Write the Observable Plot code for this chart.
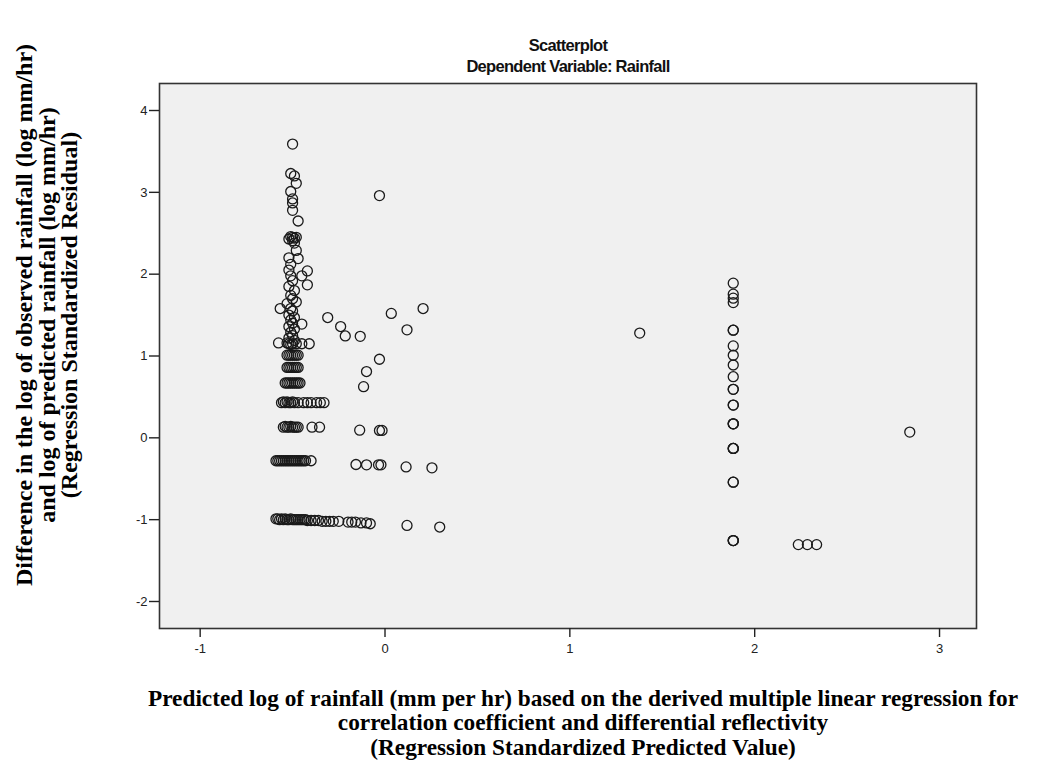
<!DOCTYPE html>
<html>
<head>
<meta charset="utf-8">
<script src="https://cdn.jsdelivr.net/npm/d3@7"></script>
<script src="https://cdn.jsdelivr.net/npm/@observablehq/plot@0.6"></script>
<style>
  html, body { margin: 0; padding: 0; background: #ffffff; }
</style>
</head>
<body>
<div id="chart"></div>
<script>
const titleText = "Scatterplot";
const subtitleText = "Dependent Variable: Rainfall";
const yLabelText = "Difference in the log of observed rainfall (log mm/hr)\nand log of predicted rainfall (log mm/hr)\n(Regression Standardized Residual)";
const xLabelText = "Predicted log of rainfall (mm per hr) based on the derived multiple linear regression for\ncorrelation coefficient and differential reflectivity\n(Regression Standardized Predicted Value)";
const xTicks = [-1, 0, 1, 2, 3];
const yTicks = [-2, -1, 0, 1, 2, 3, 4];

// Regression standardized predicted value (x)
const predicted = [
  // top of the main column
  -0.50, -0.51, -0.49, -0.48, -0.51, -0.50, -0.50, -0.50, -0.47, -0.03,
  -0.51, -0.50, -0.49, -0.48, -0.50, -0.49, -0.52,
  -0.48, -0.52, -0.47, -0.51,
  -0.42, -0.45, -0.42, -0.52, -0.51, -0.50, -0.52, -0.49, -0.51, -0.50, -0.48, -0.53,
  -0.567, -0.51, -0.50, -0.52, -0.49, -0.51, -0.50, -0.45, -0.52, -0.49, -0.51, -0.50, -0.52, -0.49,
  -0.31, -0.24, -0.215, -0.134, 0.034, 0.206, 0.119,
  // level 1.15
  -0.576, -0.52, -0.50, -0.48, -0.45, -0.41, -0.53, -0.51,
  // level 1.01
  -0.53, -0.52, -0.51, -0.50, -0.49, -0.48, -0.47, -0.03,
  // level 0.86
  -0.53, -0.52, -0.51, -0.50, -0.49, -0.48, -0.47, -0.10,
  // level 0.67
  -0.54, -0.53, -0.52, -0.51, -0.50, -0.49, -0.48, -0.47, -0.46, -0.116,
  // level 0.43
  -0.56, -0.55, -0.54, -0.53, -0.52, -0.51, -0.50, -0.49, -0.47, -0.44, -0.42, -0.40, -0.37, -0.35, -0.33,
  // level 0.13
  -0.55, -0.54, -0.53, -0.52, -0.51, -0.50, -0.49, -0.48, -0.47, -0.395, -0.354, -0.137, -0.03, -0.016,
  // level -0.28
  -0.59, -0.58, -0.57, -0.56, -0.55, -0.54, -0.53, -0.52, -0.51, -0.50, -0.49, -0.48, -0.47, -0.46, -0.45, -0.44, -0.43, -0.40,
  -0.157, -0.10, -0.035, -0.022, 0.114, 0.254,
  // level -1.0
  -0.59, -0.58, -0.57, -0.56, -0.55, -0.54, -0.53, -0.52, -0.51, -0.50, -0.49, -0.48, -0.47, -0.46, -0.45, -0.44, -0.43,
  -0.42, -0.40, -0.38, -0.36, -0.34, -0.32, -0.30, -0.28, -0.25, -0.20, -0.18, -0.16, -0.13, -0.10, -0.08, 0.119, 0.296,
  // right side
  1.378,
  1.884, 1.884, 1.884, 1.884, 1.884, 1.884, 1.884, 1.884, 1.884, 1.884, 1.884, 1.884, 1.884, 1.884,
  1.884, 1.884, 1.884, 1.884, 1.884, 1.884, 1.884, 1.884, 1.884, 1.884, 1.884,
  2.236, 2.285, 2.335, 2.839
];

// Regression standardized residual (y)
const residual = [
  3.59, 3.23, 3.20, 3.11, 3.01, 2.92, 2.87, 2.78, 2.65, 2.96,
  2.46, 2.45, 2.44, 2.45, 2.41, 2.38, 2.43,
  2.29, 2.20, 2.19, 2.12,
  2.04, 1.98, 1.87, 2.05, 1.98, 1.92, 1.85, 1.80, 1.74, 1.70, 1.66, 1.64,
  1.58, 1.58, 1.55, 1.50, 1.47, 1.44, 1.40, 1.39, 1.36, 1.33, 1.29, 1.25, 1.22, 1.19,
  1.47, 1.36, 1.245, 1.24, 1.52, 1.58, 1.32,
  1.16, 1.15, 1.15, 1.15, 1.15, 1.15, 1.16, 1.14,
  1.01, 1.01, 1.01, 1.01, 1.01, 1.01, 1.01, 0.96,
  0.86, 0.86, 0.86, 0.86, 0.86, 0.86, 0.86, 0.81,
  0.67, 0.67, 0.67, 0.67, 0.67, 0.67, 0.67, 0.67, 0.67, 0.625,
  0.43, 0.44, 0.43, 0.44, 0.43, 0.43, 0.44, 0.43, 0.43, 0.43, 0.43, 0.43, 0.43, 0.43, 0.43,
  0.13, 0.14, 0.13, 0.13, 0.14, 0.13, 0.13, 0.13, 0.13, 0.13, 0.13, 0.094, 0.09, 0.09,
  -0.28, -0.28, -0.28, -0.28, -0.28, -0.28, -0.28, -0.28, -0.28, -0.28, -0.28, -0.28, -0.28, -0.28, -0.28, -0.28, -0.28, -0.28,
  -0.326, -0.33, -0.33, -0.33, -0.355, -0.367,
  -0.99, -0.99, -1.0, -0.99, -1.0, -0.99, -1.0, -1.0, -0.99, -1.0, -1.0, -1.0, -1.0, -1.0, -1.0, -1.0, -1.0,
  -1.01, -1.01, -1.01, -1.01, -1.02, -1.02, -1.02, -1.02, -1.02, -1.03, -1.03, -1.03, -1.04, -1.04, -1.05, -1.07, -1.09,
  1.28,
  1.89, 1.756, 1.707, 1.653, 1.315, 1.315, 1.123, 1.009, 0.89, 0.747, 0.593, 0.593, 0.40, 0.40,
  0.171, 0.171, 0.171, -0.13, -0.13, -0.13, -0.542, -0.542, -1.256, -1.256, -1.256,
  -1.305, -1.305, -1.305, 0.07
];

const points = predicted.map((x, i) => ({x, y: residual[i]}));
const fmt = d => String(d);
const titleFont = "'Liberation Sans', Arial, sans-serif";

const chart = Plot.plot({
  width: 1052,
  height: 771,
  marginLeft: 159,
  marginRight: 76,
  marginTop: 83,
  marginBottom: 143,
  style: {background: "#ffffff", fontFamily: "'Liberation Sans', Arial, sans-serif", fontSize: "13px", color: "#222", overflow: "visible"},
  x: {domain: [-1.22, 3.2]},
  y: {domain: [-2.33, 4.33]},
  marks: [
    Plot.frame({fill: "#f0f0f0", stroke: null}),
    Plot.dot(points, {x: "x", y: "y", r: 5, stroke: "#1a1a1a", strokeWidth: 1.3, fill: "none"}),
    Plot.frame({stroke: "#333", strokeWidth: 1.6}),
    Plot.axisX({ticks: xTicks, tickFormat: fmt, tickSize: 9, tickPadding: 6, label: null, fontSize: 13, strokeWidth: 1.4}),
    Plot.axisY({ticks: yTicks, tickFormat: fmt, tickSize: 10, tickPadding: 2, label: null, fontSize: 13, strokeWidth: 1.4}),
    Plot.text([titleText], {text: d => d, frameAnchor: "top", dy: -44, fontFamily: titleFont, fontWeight: "bold", fontSize: 16.5, fill: "#111"}),
    Plot.text([subtitleText], {text: d => d, frameAnchor: "top", dy: -23, fontFamily: titleFont, fontWeight: "bold", fontSize: 16.5, fill: "#111"}),
    Plot.text([yLabelText], {text: d => d, frameAnchor: "left", textAnchor: "middle", rotate: -90, dx: -112, dy: -41, lineAnchor: "middle",
      fontFamily: "'Liberation Serif', 'Times New Roman', serif", fontWeight: "bold", fontSize: 24, lineHeight: 0.94, fill: "#000"}),
    Plot.text([xLabelText], {text: d => d, frameAnchor: "bottom", textAnchor: "middle", dx: 15, dy: 94, lineAnchor: "middle",
      fontFamily: "'Liberation Serif', 'Times New Roman', serif", fontWeight: "bold", fontSize: 23.3, lineHeight: 1.06, fill: "#000"})
  ]
});
// condense the two sans-serif title lines slightly, as in the original rendering
d3.select(chart).selectAll("text")
  .filter(function() { return this.textContent === titleText || this.textContent === subtitleText; })
  .style("letter-spacing", "-0.7px");
document.getElementById("chart").appendChild(chart);
</script>
</body>
</html>
